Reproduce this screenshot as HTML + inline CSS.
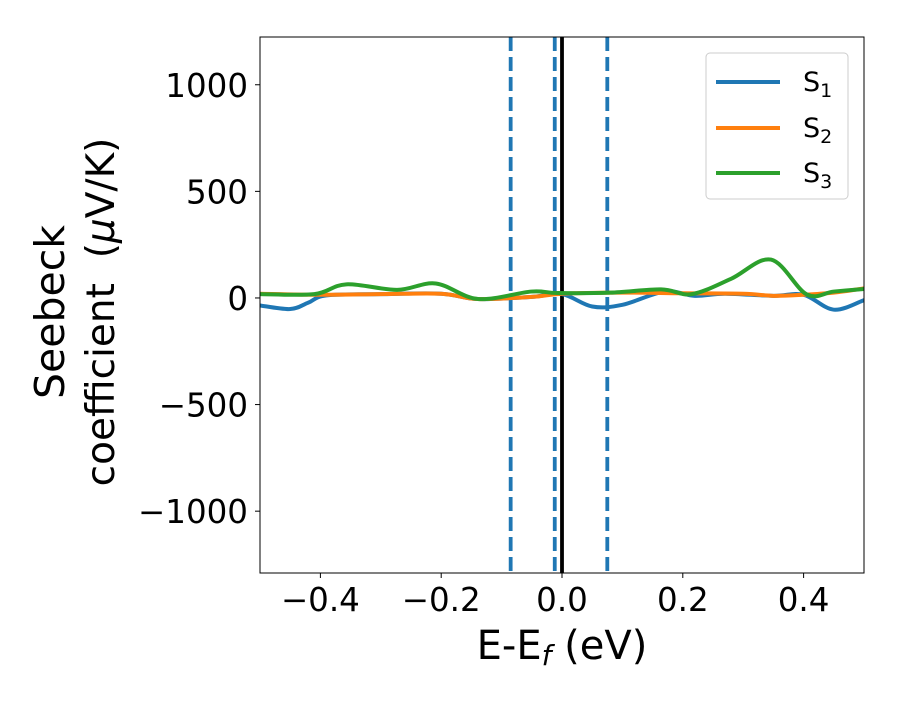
<!DOCTYPE html>
<html><head><meta charset="utf-8"><style>
body{margin:0;background:#fff}
svg{font-family:"DejaVu Sans","Liberation Sans",sans-serif}
</style></head><body>
<svg id="chart" width="900" height="700"></svg>
<script>
const s1x=[-0.5,-0.45,-0.42,-0.39,-0.3,-0.2,-0.14,-0.05,0,0.05,0.1,0.17,0.22,0.27,0.35,0.4,0.45,0.5];
const s1y=[-35,-52,-22,12,18,20,-5,5,18,-40,-32,30,10,20,10,15,-55,-10];
const s2x=[-0.5,-0.4,-0.3,-0.2,-0.14,-0.05,0,0.1,0.2,0.3,0.35,0.4,0.45,0.5];
const s2y=[20,15,18,20,-5,5,20,25,22,20,10,15,25,45];
const s3x=[-0.5,-0.41,-0.357,-0.273,-0.209,-0.139,-0.051,-0.007,0.08,0.164,0.215,0.28,0.346,0.405,0.45,0.5];
const s3y=[18,18,64,38,68,-5,30,23,25,40,18,90,180,17,30,42];
const vlines=[-0.085,-0.012,0.075];
const xticks=[-0.4,-0.2,0.0,0.2,0.4];
const xtickLabels=["\u22120.4","\u22120.2","0.0","0.2","0.4"];
const yticks=[1000,500,0,-500,-1000];
const ytickLabels=["1000","500","0","\u2212500","\u22121000"];
const L=260,R=864,T=37,B=573,xmin=-0.5,xmax=0.5,ymin=-1290,ymax=1224;
const X=v=>L+(v-xmin)/(xmax-xmin)*(R-L);
const Y=v=>B-(v-ymin)/(ymax-ymin)*(B-T);
const svg=document.getElementById('chart');const NS='http://www.w3.org/2000/svg';
function mk(t,a,p){const e=document.createElementNS(NS,t);for(const k in a)e.setAttribute(k,a[k]);(p||svg).appendChild(e);return e;}
function path(xs,ys){const p=xs.map((x,i)=>[X(x),Y(ys[i])]);let d=`M${p[0][0]},${p[0][1]}`;
for(let i=0;i<p.length-1;i++){const p0=p[Math.max(0,i-1)],p1=p[i],p2=p[i+1],p3=p[Math.min(p.length-1,i+2)];
d+=` C${p1[0]+(p2[0]-p0[0])/6},${p1[1]+(p2[1]-p0[1])/6} ${p2[0]-(p3[0]-p1[0])/6},${p2[1]-(p3[1]-p1[1])/6} ${p2[0]},${p2[1]}`;}return d;}
const defs=mk('defs',{});const cp=mk('clipPath',{id:'c'},defs);mk('rect',{x:L,y:T,width:R-L,height:B-T},cp);
const g=mk('g',{'clip-path':'url(#c)'});
vlines.forEach(v=>{const e=mk('line',{x1:X(v),x2:X(v),y1:T,y2:B,stroke:'#1f77b4','stroke-width':3.8,'stroke-dasharray':'14,6'},g);
});
const z=mk('line',{x1:X(0),x2:X(0),y1:T,y2:B,stroke:'#000','stroke-width':3.8},g);

[[s1x,s1y,'#1f77b4','s1'],[s2x,s2y,'#ff7f0e','s2'],[s3x,s3y,'#2ca02c','s3']].forEach(([xs,ys,c,n])=>{
const e=mk('path',{d:path(xs,ys),fill:'none',stroke:c,'stroke-width':4},g);
});
mk('rect',{x:L,y:T,width:R-L,height:B-T,fill:'none',stroke:'#000','stroke-width':1});
xticks.forEach((v,i)=>{mk('line',{x1:X(v),x2:X(v),y1:B,y2:B+5,stroke:'#000'});
const t=mk('text',{x:X(v),y:B+38,'text-anchor':'middle','font-size':32.5});t.textContent=xtickLabels[i];
});
yticks.forEach((v,i)=>{mk('line',{x1:L-5,x2:L,y1:Y(v),y2:Y(v),stroke:'#000'});
const t=mk('text',{x:L-12,y:Y(v)+12,'text-anchor':'end','font-size':32.5});t.textContent=ytickLabels[i];
});
</script>
<svg width="900" height="700" style="position:absolute;left:0;top:0">
<text x="562" y="659" text-anchor="middle" font-size="40">E-E<tspan font-style="italic" font-size="28" dy="6">f</tspan><tspan dy="-6"> (eV)</tspan></text>
<g transform="translate(64,312) rotate(-90)">
<text x="0" y="0" text-anchor="middle" font-size="41">Seebeck</text>
<text x="0" y="50" text-anchor="middle" font-size="39" xml:space="preserve">coefficient  (<tspan font-style="italic">μ</tspan>V/K)</text>
</g>
<g>
<rect x="706" y="53" width="142" height="146" rx="4" fill="#fff" stroke="#ccc"/>
<line x1="716" x2="780" y1="82" y2="82" stroke="#1f77b4" stroke-width="4"/>
<text x="803" y="91" font-size="27">S<tspan font-size="19" dy="6">1</tspan></text>
<line x1="716" x2="780" y1="128" y2="128" stroke="#ff7f0e" stroke-width="4"/>
<text x="803" y="137" font-size="27">S<tspan font-size="19" dy="6">2</tspan></text>
<line x1="716" x2="780" y1="173" y2="173" stroke="#2ca02c" stroke-width="4"/>
<text x="803" y="182" font-size="27">S<tspan font-size="19" dy="6">3</tspan></text>
</g>
</svg>
</body></html>
